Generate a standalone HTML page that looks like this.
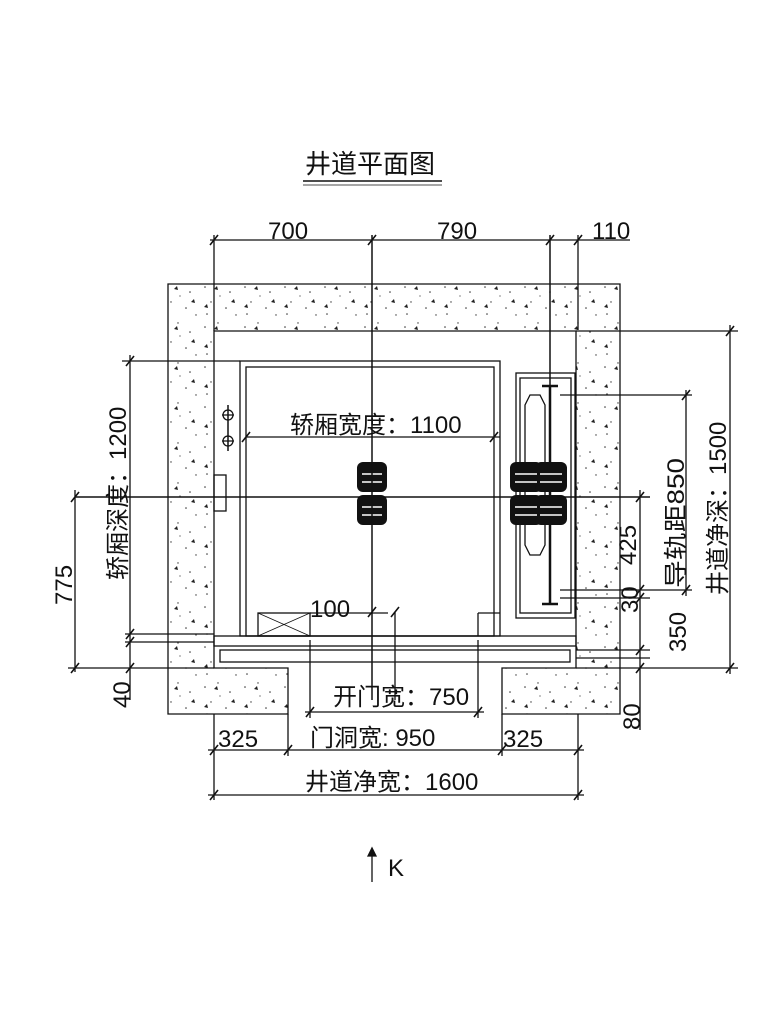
<!DOCTYPE html>
<html><head><meta charset="utf-8"><style>
html,body{margin:0;padding:0;background:#fff;width:768px;height:1024px;overflow:hidden}
svg{display:block}
text{font-family:"Liberation Sans","Noto Sans CJK SC",sans-serif;fill:#111}
</style></head><body>
<svg width="768" height="1024" viewBox="0 0 768 1024" xmlns="http://www.w3.org/2000/svg">
<defs>
<pattern id="conc" width="40" height="40" patternUnits="userSpaceOnUse">
<circle cx="5" cy="7" r="0.8" fill="#333"/><circle cx="18" cy="3" r="0.7" fill="#333"/>
<circle cx="30" cy="12" r="0.8" fill="#333"/><circle cx="11" cy="22" r="0.7" fill="#333"/>
<circle cx="26" cy="28" r="0.8" fill="#333"/><circle cx="36" cy="35" r="0.7" fill="#333"/>
<circle cx="7" cy="34" r="0.8" fill="#333"/><circle cx="20" cy="16" r="0.6" fill="#333"/>
<path d="M14 9l3 -3l1 4z" fill="#222"/><path d="M31 22l3 -3l1 4z" fill="#222"/><path d="M4 27l3 -3l1 4z" fill="#222"/>
</pattern>
</defs>
<g stroke="#111" fill="none" stroke-width="1.3">
<line x1="303" y1="181" x2="442" y2="181" stroke-width="1.6"/>
<line x1="303" y1="185" x2="442" y2="185" stroke-width="0.8"/>
<path d="M168 284H620V714H502V668H576V331H214V668H288V714H168Z" fill="url(#conc)"/>
<rect x="240" y="361" width="260" height="275"/>
<rect x="246" y="367" width="248" height="269"/>
<rect x="258" y="613" width="52" height="23"/>
<path d="M258 613l52 23M310 613l-52 23" stroke-width="0.8"/>
<path d="M310 613h78M478 613v23M478 613h22"/>
<rect x="214" y="636" width="362" height="10"/>
<rect x="220" y="650" width="350" height="12"/>
<rect x="516" y="373" width="59" height="245"/>
<rect x="520" y="378" width="51" height="235"/>
<path d="M530 395h10l5 10v140l-5 10h-10l-5 -10v-140z"/>
<path d="M550 385v220M542 386h16M542 604h16" stroke-width="2.5"/>
<path d="M228 405v46" stroke-width="1.5"/>
<circle cx="228" cy="415" r="5"/><circle cx="228" cy="441" r="5"/>
<path d="M222 415h12M222 441h12"/>
<rect x="214" y="475" width="12" height="36"/>
<g fill="#111" stroke="none">
<rect x="357" y="462" width="30" height="30" rx="6"/><rect x="357" y="495" width="30" height="30" rx="6"/>
<rect x="510" y="462" width="32" height="30" rx="6"/><rect x="510" y="495" width="32" height="30" rx="6"/>
<rect x="535" y="462" width="32" height="30" rx="6"/><rect x="535" y="495" width="32" height="30" rx="6"/>
</g>
<g stroke="#fff" stroke-width="1.5">
<path d="M362 474h20M362 482h20M362 507h20M362 515h20"/>
<path d="M515 474h22M515 482h22M515 507h22M515 515h22M540 474h22M540 482h22M540 507h22M540 515h22"/>
</g>
<line x1="372" y1="235" x2="372" y2="700" stroke-width="1.5"/>
<line x1="550" y1="235" x2="550" y2="385" stroke-width="1.5"/>
<line x1="578" y1="235" x2="578" y2="330"/>
<line x1="214" y1="235" x2="214" y2="331"/>
<line x1="75" y1="497" x2="650" y2="497" stroke-width="1.4"/>
<line x1="210" y1="240" x2="630" y2="240"/>
<line x1="246" y1="437" x2="500" y2="437"/>
<line x1="122" y1="361" x2="240" y2="361"/>
<line x1="130" y1="355" x2="130" y2="700"/>
<line x1="75" y1="490" x2="75" y2="672"/>
<line x1="68" y1="668" x2="214" y2="668"/>
<line x1="125" y1="634" x2="214" y2="634"/>
<line x1="125" y1="642" x2="214" y2="642"/>
<line x1="576" y1="331" x2="738" y2="331"/>
<line x1="576" y1="668" x2="738" y2="668"/>
<line x1="730" y1="325" x2="730" y2="674"/>
<line x1="560" y1="395" x2="692" y2="395"/>
<line x1="560" y1="590" x2="692" y2="590"/>
<line x1="686" y1="390" x2="686" y2="596"/>
<line x1="640" y1="490" x2="640" y2="730"/>
<line x1="560" y1="598" x2="650" y2="598"/>
<line x1="576" y1="650" x2="650" y2="650"/>
<line x1="576" y1="658" x2="650" y2="658"/>
<line x1="310" y1="640" x2="310" y2="718"/>
<line x1="478" y1="640" x2="478" y2="718"/>
<line x1="395" y1="612" x2="395" y2="700"/>
<line x1="305" y1="712" x2="484" y2="712"/>
<line x1="214" y1="714" x2="214" y2="800"/>
<line x1="288" y1="714" x2="288" y2="756"/>
<line x1="502" y1="714" x2="502" y2="756"/>
<line x1="578" y1="714" x2="578" y2="800"/>
<line x1="208" y1="750" x2="584" y2="750"/>
<line x1="208" y1="795" x2="584" y2="795"/>
<g stroke-width="1.6">
<path d="M210 245l8 -10M368 245l8 -10M546 245l8 -10M574 245l8 -10"/>
<path d="M242 442l8 -10M490 442l8 -10"/>
<path d="M126 366l8 -10M126 639l8 -10M126 647l8 -10M126 673l8 -10M71 502l8 -10M71 673l8 -10"/>
<path d="M726 336l8 -10M726 673l8 -10M682 400l8 -10M682 595l8 -10M636 502l8 -10M636 595l8 -10M636 603l8 -10M636 673l8 -10M636 655l8 -10"/>
<path d="M306 717l8 -10M474 717l8 -10M368 617l8 -10M391 617l8 -10"/>
<path d="M210 755l8 -10M284 755l8 -10M498 755l8 -10M574 755l8 -10M210 800l8 -10M574 800l8 -10"/>
</g>
<line x1="372" y1="850" x2="372" y2="882"/>
<path d="M368 856l4 -8l4 8z" fill="#111"/>
</g>
<g font-size="24">
<text x="305" y="173" font-size="26">井道平面图</text>
<text x="268" y="239">700</text>
<text x="437" y="239">790</text>
<text x="592" y="239">110</text>
<text x="290" y="433">轿厢宽度：1100</text>
<text x="310" y="617">100</text>
<text x="333" y="705">开门宽：750</text>
<text x="218" y="747">325</text>
<text x="310" y="746">门洞宽: 950</text>
<text x="503" y="747">325</text>
<text x="305" y="790">井道净宽：1600</text>
<text x="388" y="876">K</text>
<text transform="translate(126,580) rotate(-90)">轿厢深度：1200</text>
<text transform="translate(72,605) rotate(-90)">775</text>
<text transform="translate(130,708) rotate(-90)">40</text>
<text transform="translate(636,565) rotate(-90)">425</text>
<text transform="translate(638,613) rotate(-90)">30</text>
<text transform="translate(686,652) rotate(-90)">350</text>
<text transform="translate(684,588) rotate(-90)" textLength="130" lengthAdjust="spacingAndGlyphs">导轨距850</text>
<text transform="translate(726,595) rotate(-90)">井道净深：1500</text>
<text transform="translate(640,730) rotate(-90)">80</text>
</g>
</svg>
</body></html>
